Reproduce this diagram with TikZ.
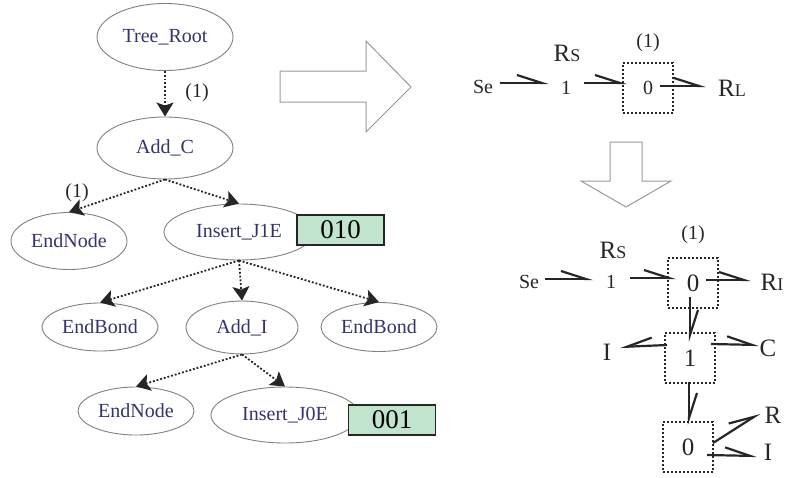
\documentclass[tikz,border=0pt]{standalone}
\usepackage{fontspec}
\setmainfont{Liberation Serif}
\usetikzlibrary{shapes.geometric,arrows.meta,positioning}
\definecolor{treetext}{HTML}{33336E}
\definecolor{codegreen}{HTML}{C0E4CC}
\newcommand{\fsz}[1]{\fontsize{#1}{#1}\selectfont}
\newcommand{\capsub}[2]{{\fsz{25}#1\fsz{18}#2}}

\begin{document}
\begin{tikzpicture}[
  x=1pt, y=-1pt,
  tree/.style={ellipse, draw=black!50, line width=0.9pt, inner sep=0pt, text=treetext, font=\fsz{20}},
  codebox/.style={rectangle, draw=black!85, line width=1.6pt, fill=codegreen, inner sep=0pt, minimum width=87pt, minimum height=30pt, font=\fsz{27}},
  lab/.style={inner sep=0pt, text=black!85, font=\fsz{20}},
  biglab/.style={inner sep=0pt, text=black!85, font=\fsz{25}},
  port/.style={rectangle, draw=black!85, line width=2pt, dash pattern=on 2pt off 2pt, inner sep=0pt, minimum width=50pt, minimum height=50pt, text=black!85},
  treeedge/.style={line width=1.8pt, dash pattern=on 1.9pt off 1.9pt, black!85, -{Stealth[length=14pt,width=17pt,inset=3pt]}},
  bond/.style={line width=2.2pt, black!85, -{Straight Barb[left,length=25pt,width=16pt,line width=2.2pt]}},
  rbond/.style={line width=2.2pt, black!85, -{Straight Barb[right,length=25pt,width=16pt,line width=2.2pt]}},
  hollow/.style={draw=black!40, line width=1pt}
  ]
  \useasboundingbox (0,0) rectangle (785,477);

  \node[tree, minimum width=136pt, minimum height=67pt] (R) at (165,37) {Tree\_Root};
  \node[tree, minimum width=136pt, minimum height=62pt] (A) at (165,148) {Add\_C};
  \node[tree, minimum width=116pt, minimum height=57pt] (N1) at (69,241) {EndNode};
  \node[tree, minimum width=150pt, minimum height=56pt] (J1) at (239,232) {Insert\_J1E};
  \node[tree, minimum width=116pt, minimum height=48pt] (B1) at (100,327) {EndBond};
  \node[tree, minimum width=112pt, minimum height=53pt] (I1) at (242,327.5) {Add\_I};
  \node[tree, minimum width=116pt, minimum height=49pt] (B2) at (379,327) {EndBond};
  \node[tree, minimum width=116pt, minimum height=48pt] (N2) at (136,411) {EndNode};
  \node[tree, minimum width=148pt, minimum height=56pt] (J0) at (285,415) {Insert\_J0E};
  \node[codebox] (C1) at (340.5,230) {010};
  \node[codebox] (C2) at (392,420) {001};
  \node[lab] (L1) at (197,93) {(1)};
  \node[lab] (L2) at (77,193) {(1)};

  \draw[treeedge] (R) -- (A);
  \draw[treeedge] (A.south) -- (N1.north);
  \draw[treeedge] (A.south) -- (J1.north);
  \draw[treeedge] (J1.south) -- (B1.north);
  \draw[treeedge] (J1.south) -- (I1.north);
  \draw[treeedge] (J1.south) -- (B2.north);
  \draw[treeedge] (I1.south) -- (N2.north);
  \draw[treeedge] (I1.south) -- (J0.north);

  \draw[hollow] (280,71) -- (366,71) -- (366,41) -- (411,87) -- (366,132) -- (366,102) -- (280,102) -- cycle;
  \draw[hollow] (610,142) -- (642,142) -- (642,181) -- (671,181) -- (626,207) -- (581,181) -- (610,181) -- cycle;

  % first bond graph
  \node[lab] (Se1) at (483,87) {Se};
  \node[lab] (One1) at (566,88) {1};
  \node[port, font=\fsz{20}] (Zero1) at (648,88) {0};
  \node[inner sep=0pt, text=black!85] (RL) at (732,88) {\capsub{R}{L}};
  \node[inner sep=0pt, text=black!85] (Rs1) at (567,53) {\capsub{R}{S}};
  \node[lab] (L3) at (648,43) {(1)};

  \draw[bond] ([shift={(17,-4)}]Se1.center) -- ([shift={(-17,-5)}]One1.center);
  \draw[bond] ([shift={(18,-5)}]One1.center) -- ([shift={(-21,-5)}]Zero1.center);
  \draw[bond] ([shift={(12,-2)}]Zero1.center) -- ([shift={(-26,-2)}]RL.center);

  % second bond graph
  \node[lab] (Se2) at (529,282) {Se};
  \node[lab] (One2) at (611,282) {1};
  \node[port, font=\fsz{25}] (Zero2) at (693,283) {0};
  \node[inner sep=0pt, text=black!85] (RI) at (772,282) {\capsub{R}{I}};
  \node[inner sep=0pt, text=black!85] (Rs2) at (613,250) {\capsub{R}{S}};
  \node[lab] (L4) at (693,235) {(1)};
  \node[port, font=\fsz{25}] (One3) at (690,358) {1};
  \node[biglab] (I2) at (607,352) {I};
  \node[biglab] (C) at (768,348) {C};
  \node[port, font=\fsz{25}] (Zero3) at (688,447) {0};
  \node[biglab] (R2) at (773,415) {R};
  \node[biglab] (I3) at (768,452) {I};

  \draw[bond] ([shift={(16,-3)}]Se2.center) -- ([shift={(-18,-3)}]One2.center);
  \draw[bond] ([shift={(19,-4)}]One2.center) -- ([shift={(-17,-5)}]Zero2.center);
  \draw[bond] ([shift={(13,-3)}]Zero2.center) -- ([shift={(-21,-2)}]RI.center);
  \draw[bond] ([shift={(-3,14)}]Zero2.center) -- ([shift={(0,-16)}]One3.center);
  \draw[rbond] ([shift={(-23,-13)}]One3.center) -- ([shift={(13,-5)}]I2.center);
  \draw[bond] ([shift={(21,-14)}]One3.center) -- ([shift={(-9,-3)}]C.center);
  \draw[bond] ([shift={(-1,24)}]One3.center) -- ([shift={(1,-22)}]Zero3.center);
  \draw[bond] ([shift={(25,-4)}]Zero3.center) -- ([shift={(-13,-2)}]R2.center);
  \draw[bond] ([shift={(19,8)}]Zero3.center) -- ([shift={(-11,4)}]I3.center);
\end{tikzpicture}
\end{document}
